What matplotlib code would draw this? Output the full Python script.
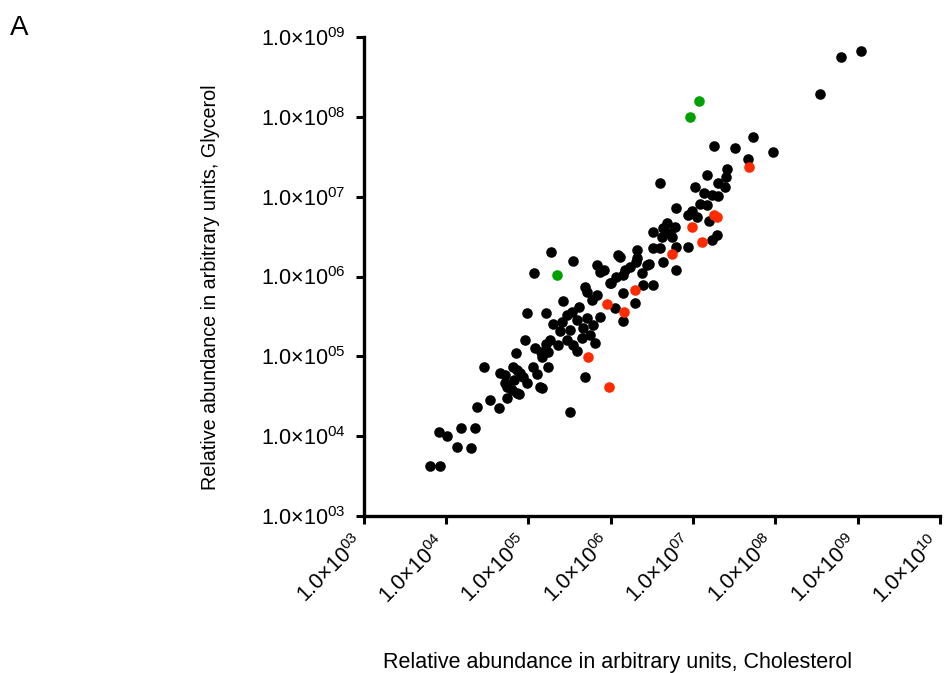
import numpy as np
import matplotlib
matplotlib.use('Agg')
import matplotlib.pyplot as plt
import matplotlib.transforms as mtransforms

plt.rcParams['font.family'] = ['Liberation Sans', 'DejaVu Sans']
plt.rcParams['mathtext.fontset'] = 'custom'
plt.rcParams['mathtext.rm'] = 'Liberation Sans'
plt.rcParams['mathtext.default'] = 'regular'

# ── Data (log10 of relative abundance) ──
chol_black_log = [
    3.80, 3.92, 3.91, 4.01, 4.13, 4.18, 4.30, 4.35, 4.37, 4.46,
    4.53, 4.64, 4.65, 4.74, 4.71, 4.80, 4.82, 4.86, 4.88, 4.93,
    4.98, 4.85, 5.05, 5.10, 5.16, 5.08, 5.17, 5.24, 5.24, 5.22,
    4.96, 4.98, 5.07, 5.22, 5.28, 5.42, 5.30, 5.38, 5.41, 5.47,
    5.54, 5.50, 5.59, 5.62, 5.53, 5.36, 5.26, 5.47, 5.54, 5.59,
    5.65, 5.75, 5.81, 5.78, 5.87, 5.71, 5.66, 5.77, 5.69, 5.83,
    5.71, 5.69, 5.50, 5.15, 4.81, 4.71, 5.14, 4.74, 4.86, 4.90,
    5.83, 5.87, 5.99, 6.09, 6.17, 6.15, 6.05, 6.15, 6.29, 5.92,
    6.01, 6.07, 6.11, 6.23, 6.32, 6.32, 6.44, 6.38, 6.39, 6.51,
    6.15, 6.51, 6.51, 6.60, 6.63, 6.80, 6.46, 6.31,
    6.60, 7.17, 7.41, 7.40, 7.30, 7.39, 7.03, 7.14, 7.30, 7.23,
    6.80, 7.08, 7.17, 6.99, 7.05, 6.94, 7.20, 6.68, 6.78, 6.63,
    6.72, 6.62, 6.75, 7.29, 7.23, 6.94, 6.80,
    7.26, 7.51, 7.73, 7.97, 7.67, 8.55, 8.80, 9.04,
]
glyc_black_log = [
    3.63, 3.63, 4.05, 4.00, 3.86, 4.10, 3.85, 4.10, 4.37, 4.87,
    4.45, 4.35, 4.79, 4.48, 4.67, 4.58, 4.70, 4.83, 4.53, 4.74,
    4.67, 5.04, 4.87, 4.78, 4.60, 5.10, 4.99, 5.05, 4.87, 5.15,
    5.20, 5.54, 6.04, 5.54, 6.31, 5.69, 5.40, 5.32, 5.43, 5.52,
    6.19, 5.33, 5.45, 5.62, 5.56, 5.14, 5.20, 5.20, 5.14, 5.07,
    5.23, 5.27, 5.17, 5.39, 5.49, 5.48, 5.35, 5.71, 5.87, 5.77,
    5.81, 4.74, 4.30, 5.05, 4.87, 4.77, 4.62, 4.62, 4.54, 4.79,
    6.14, 6.06, 5.92, 6.27, 6.08, 6.02, 5.61, 5.44, 5.67, 6.08,
    5.92, 5.99, 6.24, 6.12, 6.33, 6.23, 6.14, 6.04, 5.89, 5.89,
    5.79, 6.56, 6.36, 6.36, 6.18, 6.08, 6.16, 6.18,
    7.17, 7.27, 7.35, 7.25, 7.17, 7.12, 7.12, 7.05, 7.01, 7.02,
    6.86, 6.91, 6.90, 6.82, 6.75, 6.77, 6.70, 6.67, 6.62, 6.61,
    6.54, 6.49, 6.49, 6.52, 6.46, 6.37, 6.37,
    7.63, 7.61, 7.75, 7.56, 7.47, 8.29, 8.75, 8.82,
]
chol_red_log = [7.68, 7.26, 7.29, 6.99, 7.11, 6.74, 6.29, 6.16, 5.96, 5.73, 5.98]
glyc_red_log = [7.37, 6.77, 6.75, 6.62, 6.43, 6.28, 5.83, 5.56, 5.66, 4.99, 4.62]
chol_green_log = [7.07, 6.97, 5.35]
glyc_green_log = [8.20, 8.00, 6.02]

decades = list(range(3, 11))
x_ticklabels = [r"1.0$\times$10$^{%02d}$" % d for d in decades]
y_decades = list(range(3, 10))
y_ticklabels = [r"1.0$\times$10$^{%02d}$" % d for d in y_decades]

# ── Plot ──
fig = plt.figure(figsize=(9.45, 6.73), dpi=100)
ax = fig.add_axes([0.385, 0.2333, 0.6095, 0.7117])

ms = 58
ax.scatter(np.power(10, chol_black_log), np.power(10, glyc_black_log),
           s=ms, color="black", linewidths=0, zorder=3)
ax.scatter(np.power(10, chol_red_log), np.power(10, glyc_red_log),
           s=ms, color="#ff2a00", linewidths=0, zorder=4)
ax.scatter(np.power(10, chol_green_log), np.power(10, glyc_green_log),
           s=ms, color="#00a000", linewidths=0, zorder=4)

ax.set_xscale("log")
ax.set_yscale("log")
ax.set_xlim(1e3, 1e10)
ax.set_ylim(1e3, 1e9)

tick_fs = 15.5
ax.set_xticks([10.0 ** d for d in decades])
ax.set_xticklabels(x_ticklabels, rotation=45, ha="right", va="center",
                   rotation_mode="anchor", fontsize=tick_fs)
ax.set_yticks([10.0 ** d for d in y_decades])
ax.set_yticklabels(y_ticklabels, fontsize=tick_fs)
ax.minorticks_off()

for side in ["top", "right"]:
    ax.spines[side].set_visible(False)
for side in ["left", "bottom"]:
    ax.spines[side].set_linewidth(2.4)
ax.tick_params(axis="both", direction="out", length=6, width=2.2)
ax.tick_params(axis="y", pad=7)
ax.tick_params(axis="x", pad=11)

# nudge rotated x labels a little left so they end just under their tick
shift = mtransforms.ScaledTranslation(-3 / 100, 0, fig.dpi_scale_trans)
for lab in ax.get_xticklabels():
    lab.set_transform(lab.get_transform() + shift)

fig.text(0.653, 0.016, "Relative abundance in arbitrary units, Cholesterol",
         ha="center", va="center", fontsize=15.5)
fig.text(0.223, 0.574, "Relative abundance in arbitrary units, Glycerol",
         ha="center", va="center", rotation=90, fontsize=14.2)
fig.text(0.010, 0.958, "A", ha="left", va="center", fontsize=20)

plt.savefig("out.png", dpi=100)
